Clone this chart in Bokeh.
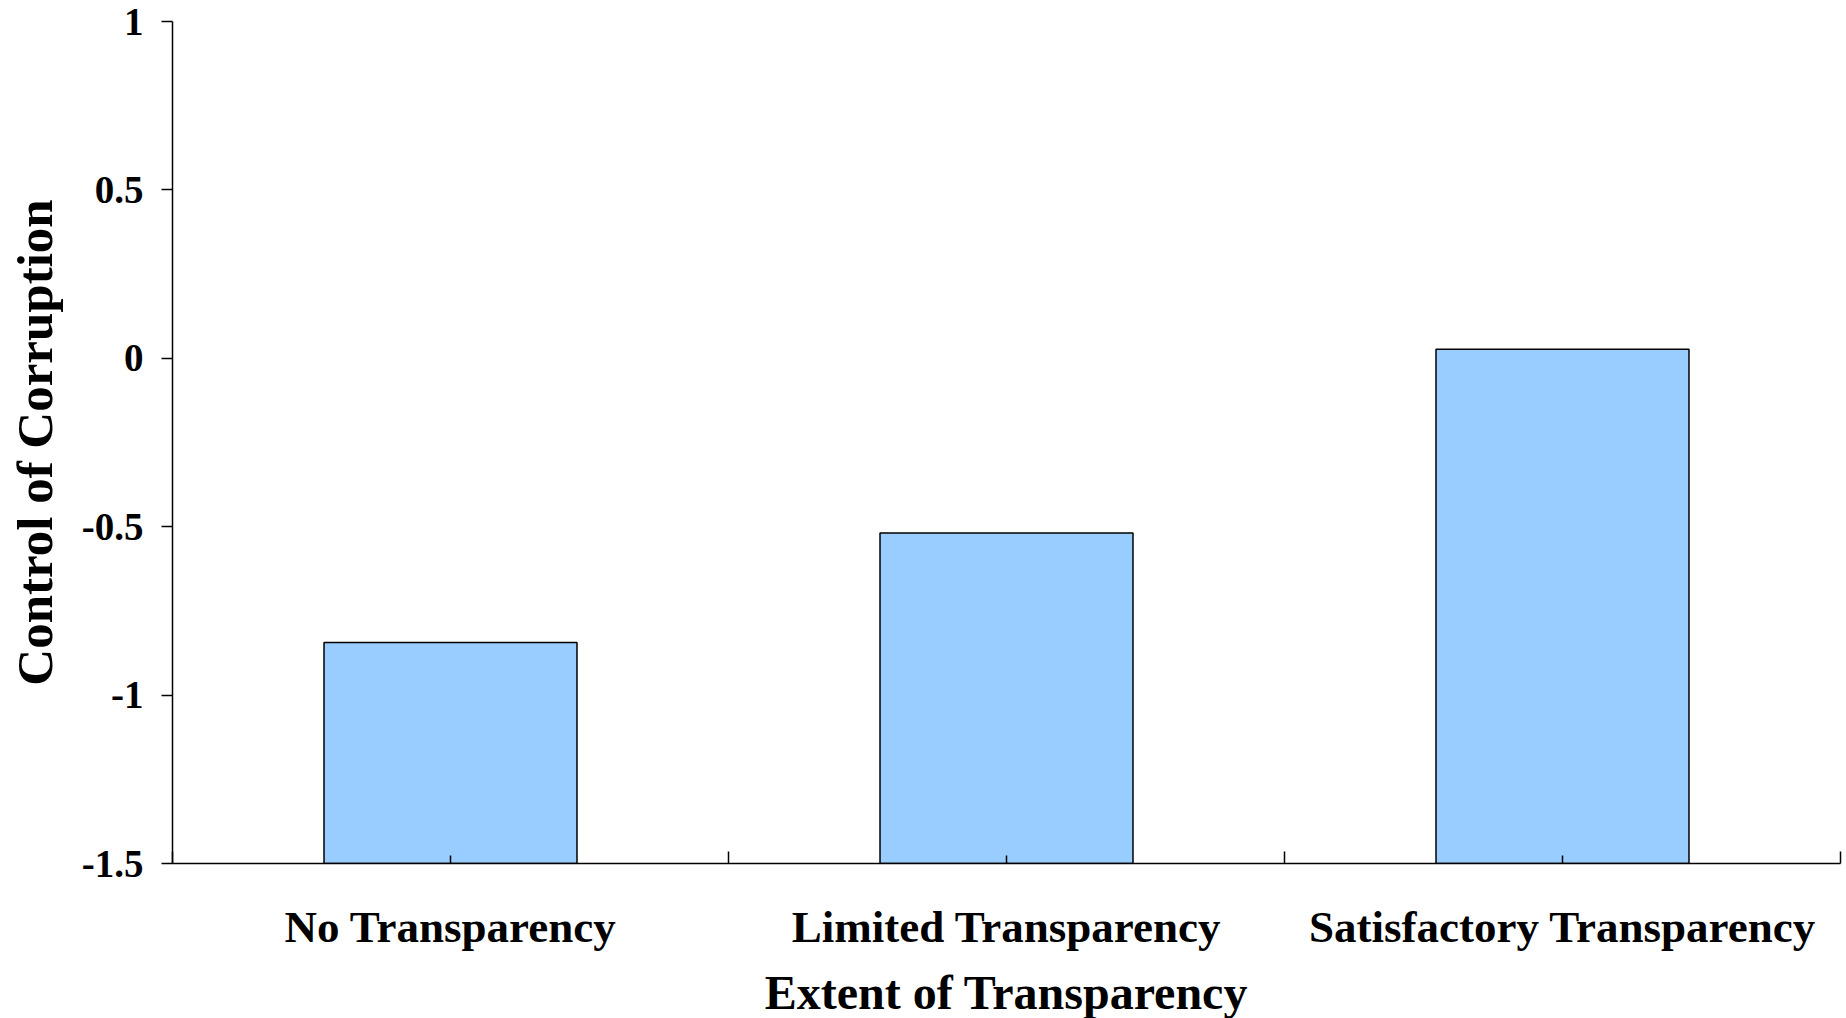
from bokeh.plotting import figure
from bokeh.layouts import column
from bokeh.models import Range1d, FixedTicker, LinearAxis
from bokeh.core.properties import value
from bokeh.embed import file_html
from bokeh.resources import INLINE

# Data
categories = ["No Transparency", "Limited Transparency", "Satisfactory Transparency"]
control_of_corruption = [-0.844, -0.519, 0.027]
y_ticks = [-1.5, -1.0, -0.5, 0.0, 0.5, 1.0]
y_tick_labels = ["-1.5", "-1", "-0.5", "0", "0.5", "1"]
x_title = "Extent of Transparency"
y_title = "Control of Corruption"

FONT = "Liberation Serif"
n = len(categories)
centers = [i + 0.5 for i in range(n)]
bounds = [float(i) for i in range(n + 1)]

WIDTH = 1846
TITLE_H = 58

p = figure(
    width=WIDTH, height=1018 - TITLE_H,
    output_backend="svg", toolbar_location=None,
    x_range=Range1d(0, n), y_range=Range1d(y_ticks[0], y_ticks[-1]),
    x_axis_type=None, y_axis_type=None,
    min_border_left=172, min_border_right=6,
    min_border_top=21, min_border_bottom=97,
)
p.outline_line_color = None
p.background_fill_color = "white"
p.border_fill_color = "white"

# Bars rise from the bottom of the value axis
p.vbar(x=centers, top=control_of_corruption, bottom=y_ticks[0], width=0.455,
       fill_color="#99CCFF", line_color="black", line_width=1.5)

# Category axis: labelled ticks at bar centres, taller ticks at the category boundaries
xaxis = LinearAxis(
    ticker=FixedTicker(ticks=centers, minor_ticks=bounds),
    major_label_overrides={c: lab for c, lab in zip(centers, categories)},
)
xaxis.axis_line_color = "black"
xaxis.axis_line_width = 1.5
xaxis.major_tick_in = 8
xaxis.major_tick_out = 0
xaxis.minor_tick_in = 12
xaxis.minor_tick_out = 0
xaxis.major_tick_line_width = 1.5
xaxis.minor_tick_line_width = 1.5
xaxis.major_tick_line_color = "black"
xaxis.minor_tick_line_color = "black"
xaxis.major_label_text_font = FONT
xaxis.major_label_text_font_style = "bold"
xaxis.major_label_text_font_size = "45px"
xaxis.major_label_text_color = "black"
xaxis.major_label_standoff = 38
p.add_layout(xaxis, "below")

# Value axis
yaxis = LinearAxis(
    ticker=FixedTicker(ticks=y_ticks),
    major_label_overrides={t: lab for t, lab in zip(y_ticks, y_tick_labels)},
    axis_label=y_title,
)
yaxis.axis_line_color = "black"
yaxis.axis_line_width = 1.5
yaxis.major_tick_in = 0
yaxis.major_tick_out = 11
yaxis.major_tick_line_width = 1.5
yaxis.major_tick_line_color = "black"
yaxis.minor_tick_line_color = None
yaxis.major_label_text_font = FONT
yaxis.major_label_text_font_style = "bold"
yaxis.major_label_text_font_size = "39px"
yaxis.major_label_text_color = "black"
yaxis.major_label_standoff = 18
yaxis.axis_label_text_font = FONT
yaxis.axis_label_text_font_style = "bold"
yaxis.axis_label_text_font_size = "51px"
yaxis.axis_label_text_color = "black"
yaxis.axis_label_standoff = 16
p.add_layout(yaxis, "left")

# Strip under the chart carrying the horizontal axis title, sharing the x range
t = figure(
    width=WIDTH, height=TITLE_H,
    output_backend="svg", toolbar_location=None,
    x_range=p.x_range, y_range=Range1d(0, 1),
    x_axis_type=None, y_axis_type=None,
    min_border=0, min_border_left=172, min_border_right=6,
)
t.outline_line_color = None
t.grid.visible = False
t.background_fill_color = "white"
t.border_fill_color = "white"
t.text(x=[n / 2], y=[0], text=[x_title], text_align="center", text_baseline="bottom",
       text_font=value(FONT), text_font_style="bold", text_font_size="48px",
       text_color="black")

layout = column(p, t, spacing=0)
open("out.html", "w").write(file_html(layout, INLINE))
